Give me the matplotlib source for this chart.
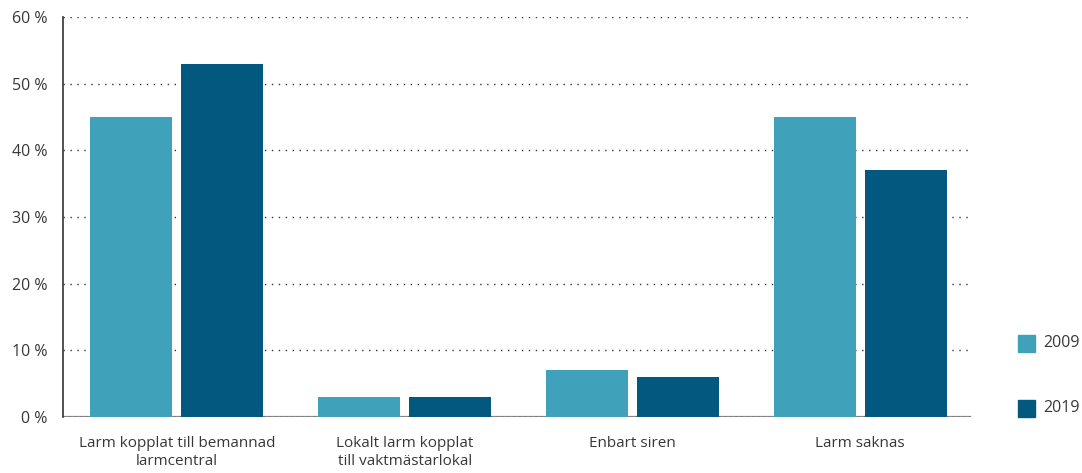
import matplotlib
matplotlib.use("Agg")
import matplotlib.pyplot as plt
import numpy as np
from matplotlib.patches import Rectangle

categories = ["Larm kopplat till bemannad\nlarmcentral",
              "Lokalt larm kopplat\ntill vaktmästarlokal",
              "Enbart siren",
              "Larm saknas"]
series_names = ["2009", "2019"]
values_2009 = [45, 3, 7, 45]
values_2019 = [53, 3, 6, 37]
y_ticks = [0, 10, 20, 30, 40, 50, 60]
y_labels = ["0 %", "10 %", "20 %", "30 %", "40 %", "50 %", "60 %"]

colors = ["#40A1BA", "#03587F"]
text_color = "#383838"

plt.rcParams['font.family'] = ['Open Sans', 'DejaVu Sans']

fig = plt.figure(figsize=(10.82, 4.73), dpi=100)
ax = fig.add_axes([63/1082, 1 - 417/473, (974-63)/1082, 400/473])

x = np.arange(len(categories))
w = 0.36
ax.bar(x - 0.2, values_2009, width=w, color=colors[0], zorder=3, label=series_names[0])
ax.bar(x + 0.2, values_2019, width=w, color=colors[1], zorder=3, label=series_names[1])

ax.set_xlim(-0.5, len(categories) - 0.5)
ax.set_ylim(0, 60)
ax.set_yticks(y_ticks)
ax.set_yticklabels(y_labels, fontsize=11.5, color=text_color)
ax.set_xticks(x)
ax.set_xticklabels(categories, fontsize=11, color=text_color, linespacing=1.25)
ax.tick_params(axis='both', length=0)
ax.tick_params(axis='x', pad=14)
ax.tick_params(axis='y', pad=11)

for t in y_ticks[1:]:
    ax.axhline(t, xmax=(970-63)/(974-63), color="#333333", linestyle=(0, (1, 4)), linewidth=1.0, zorder=1)
ax.axhline(0, xmax=(970-63)/(974-63), color="#888888", linewidth=1.6, zorder=2)
ax.axhline(0, xmax=(970-63)/(974-63), color="#333333", linestyle=(0, (1, 3)), linewidth=1.0, zorder=2)

for s in ["top", "right", "bottom"]:
    ax.spines[s].set_visible(False)
ax.spines["left"].set_color("#333333")
ax.spines["left"].set_linewidth(1.2)

# legend
for i, (name, c) in enumerate(zip(series_names, colors)):
    yc = 343 if i == 0 else 408
    fig.patches.append(Rectangle((1018/1082, 1 - (yc+8.5)/473), 17/1082, 17/473,
                                 transform=fig.transFigure, color=c, figure=fig))
    fig.text(1043/1082, 1 - yc/473, name, fontsize=11.5, color=text_color,
             va='center', ha='left')

fig.savefig("out.png", dpi=100)
